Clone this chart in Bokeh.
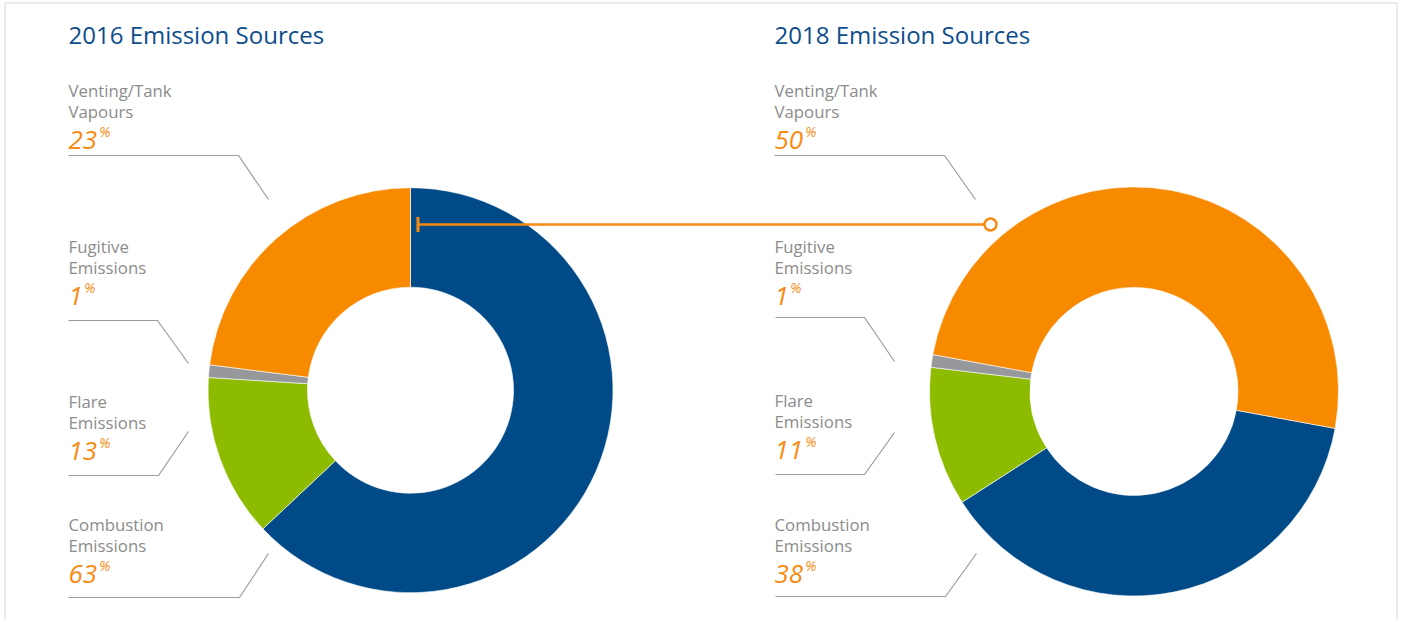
import math
from bokeh.plotting import figure
from bokeh.models import Range1d, ColumnDataSource
from bokeh.core.properties import value
from bokeh.embed import file_html
from bokeh.resources import INLINE

# ---------------- data ----------------
categories = ["Combustion Emissions", "Flare Emissions", "Fugitive Emissions", "Venting/Tank Vapours"]
label_line1 = ["Combustion", "Flare", "Fugitive", "Venting/Tank"]
label_line2 = ["Emissions", "Emissions", "Emissions", "Vapours"]
values_2016 = [63, 13, 1, 23]
values_2018 = [38, 11, 1, 50]
titles = ["2016 Emission Sources", "2018 Emission Sources"]

# ---------------- styles ----------------
colors = ["#004b87", "#8dbb00", "#97989b", "#f88a00"]
TITLE_COLOR = "#0e4d8c"
LABEL_COLOR = "#8c8c8c"
PCT_COLOR = "#f78b12"
LEADER_COLOR = "#9c9c9c"
FONT = "Open Sans"
NUM_SIZE = 26
TEXT_DY = -8  # baseline correction

W, H = 1400, 620
X0, Y0 = 0, 0  # data coords == screen px

p = figure(width=W, height=H, output_backend="svg", toolbar_location=None,
           x_range=Range1d(X0, X0 + W), y_range=Range1d(-(Y0 + H), -Y0),
           min_border=0, outline_line_color=None, background_fill_color="white")
p.axis.visible = False
p.grid.visible = False


def sy(v):
    return -v


def ty(v):
    return -(v + TEXT_DY)


# frame (left, top, right)
p.segment(x0=[4.5, 4.5, 1396.5], y0=[sy(2.5), sy(2.5), sy(2.5)],
          x1=[4.5, 1396.5, 1396.5], y1=[sy(622), sy(2.5), sy(622)],
          line_color="#e4e4e4", line_width=1.5)

panels = [
    dict(values=values_2016, title=titles[0], cx=410, cy=389.7, r_out=202.5, r_in=103, start=0.0, tx=68,
         base=[532.3, 409.3, 254.3, 97.7],
         leaders=[[(68, 597), (239, 597), (268, 553)],
                  [(68, 475), (158, 475), (188, 431)],
                  [(68, 320), (157, 320), (188, 363)],
                  [(68, 155), (238, 155), (268, 199)]]),
    dict(values=values_2018, title=titles[1], cx=1133.5, cy=391, r_out=204.5, r_in=104, start=100.4, tx=774,
         base=[532.3, 407.7, 254.3, 97.7],
         leaders=[[(775, 596), (945, 596), (976, 553)],
                  [(775, 474), (864, 474), (894, 432)],
                  [(775, 317), (864, 317), (894, 361)],
                  [(774, 155), (944, 155), (975, 199)]]),
]


def num_width(s):
    return len(s) * 0.572 * NUM_SIZE


for pan in panels:
    vals = pan["values"]
    total = float(sum(vals))
    cum = pan["start"]
    starts, ends = [], []
    for v in vals:
        a0 = cum
        a1 = cum + 360.0 * v / total
        cum = a1
        starts.append(math.radians(90 - a0))
        ends.append(math.radians(90 - a1))
    src = ColumnDataSource(dict(x=[pan["cx"]] * len(vals), y=[sy(pan["cy"])] * len(vals),
                                start=starts, end=ends, color=colors, cat=categories))
    p.annular_wedge(x="x", y="y", inner_radius=pan["r_in"], outer_radius=pan["r_out"],
                    start_angle="start", end_angle="end", direction="clock",
                    fill_color="color", line_color="white", line_width=0.6, source=src)

    # title
    p.text(x=[pan["tx"]], y=[ty(42.3)], text=[pan["title"]], text_font=value(FONT),
           text_font_size="24px", text_color=TITLE_COLOR, text_baseline="alphabetic")

    # labels
    tx = pan["tx"]
    bases = pan["base"]
    p.text(x=[tx] * 4, y=[ty(b) for b in bases], text=label_line1, text_font=value(FONT),
           text_font_size="16.8px", text_color=LABEL_COLOR, text_baseline="alphabetic")
    p.text(x=[tx] * 4, y=[ty(b + 21) for b in bases], text=label_line2, text_font=value(FONT),
           text_font_size="16.8px", text_color=LABEL_COLOR, text_baseline="alphabetic")
    nums = [str(v) for v in vals]
    p.text(x=[tx] * 4, y=[ty(b + 49.6) for b in bases], text=nums, text_font=value(FONT),
           text_font_size=f"{NUM_SIZE}px", text_font_style="italic", text_color=PCT_COLOR,
           text_baseline="alphabetic")
    p.text(x=[tx + num_width(n) + 1 for n in nums], y=[ty(b + 49.6 - 8.8) for b in bases],
           text=["%"] * 4, text_font=value(FONT), text_font_size="14px",
           text_font_style="italic", text_color=PCT_COLOR, text_baseline="alphabetic")

    # leader lines
    p.multi_line(xs=[[pt[0] for pt in L] for L in pan["leaders"]],
                 ys=[[sy(pt[1]) for pt in L] for L in pan["leaders"]],
                 line_color=LEADER_COLOR, line_width=1.2)

# connector between the two venting shares
p.segment(x0=[418], y0=[sy(224)], x1=[984], y1=[sy(224)], line_color=PCT_COLOR, line_width=2.5)
p.segment(x0=[417.5], y0=[sy(216.5)], x1=[417.5], y1=[sy(231.5)], line_color=PCT_COLOR, line_width=3)
p.scatter(x=[990], y=[sy(224)], marker="circle", size=12, line_color=PCT_COLOR, line_width=2.5,
          fill_color="white")

open("out.html", "w").write(file_html(p, INLINE))
